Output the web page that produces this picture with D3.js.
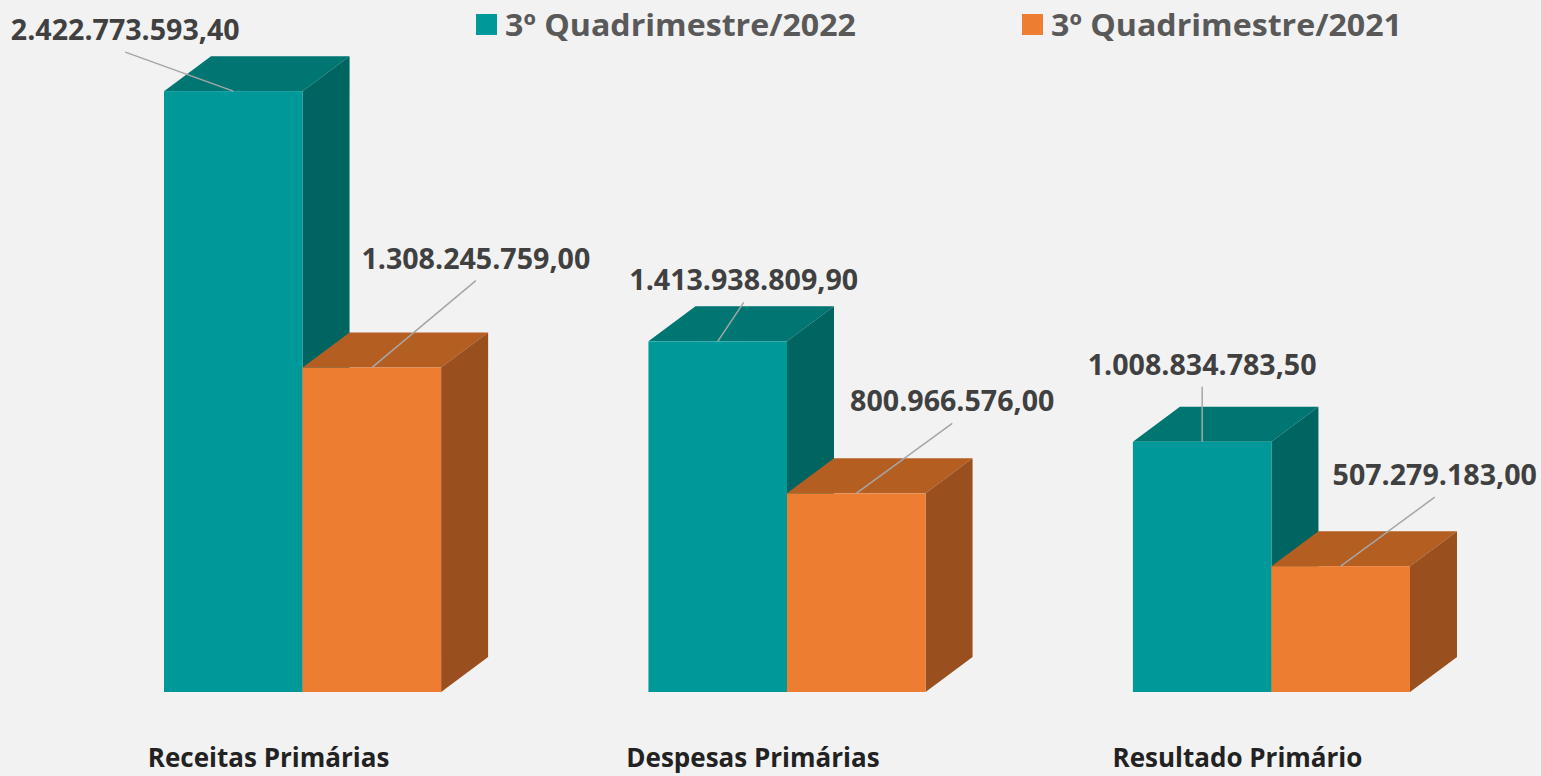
<!DOCTYPE html>
<html>
<head>
<meta charset="utf-8">
<script src="https://cdn.jsdelivr.net/npm/d3@7"></script>
<style>
  html, body { margin: 0; padding: 0; background: #f2f2f2; }
  svg { display: block; }
</style>
</head>
<body>
<svg id="chart"></svg>
<script>
// data
const categories = ["Receitas Primárias", "Despesas Primárias", "Resultado Primário"];
const series = ["3º Quadrimestre/2022", "3º Quadrimestre/2021"];
const values2022 = [2422773593.40, 1413938809.90, 1008834783.50];
const values2021 = [1308245759.00, 800966576.00, 507279183.00];

// where Excel's dragged labels sit, relative to bar top centre [series][category]
const labelOffset = [
  [[-108, -39], [26, -39], [0, -55]],
  [[104, -87], [96, -70], [94, -69]]
];

const width = 1541, height = 776;
const depthX = 47, depthY = 35;

const colors = {
  front: ["#009999", "#ED7D31"],
  top:   ["#007673", "#B55E22"],
  side:  ["#006461", "#994F1E"]
};

const locale = d3.formatLocale({decimal: ",", thousands: ".", grouping: [3], currency: ["R$", ""]});
const fmt = locale.format(",.2f");

const svg = d3.select("#chart")
    .attr("width", width)
    .attr("height", height)
    .attr("font-family", "'Open Sans', sans-serif")
    .attr("font-weight", "bold");

svg.append("rect").attr("width", width).attr("height", height).attr("fill", "#f2f2f2");

const x = d3.scaleBand()
    .domain(categories)
    .range([164, 1410])
    .paddingInner(0.428)
    .paddingOuter(0);

const xs = d3.scaleBand()
    .domain(d3.range(series.length))
    .range([0, x.bandwidth()]);

const y = d3.scaleLinear()
    .domain([0, 2500000000])
    .range([692, 72]);

const rows = categories.map((c, i) => ({
  cat: c,
  vals: [values2022[i], values2021[i]]
}));

const bars = [];
rows.forEach((r, ci) => r.vals.forEach((v, si) => {
  bars.push({ci, si, cat: r.cat, value: v,
    x0: x(r.cat) + xs(si), x1: x(r.cat) + xs(si) + xs.bandwidth(),
    y0: y(0), y1: y(v)});
}));

const g = svg.append("g");
const pts = a => a.map(p => p.join(",")).join(" ");

bars.forEach(b => {
  const bar = g.append("g");
  // top face
  bar.append("polygon")
      .attr("fill", colors.top[b.si])
      .attr("points", pts([[b.x0, b.y1], [b.x0 + depthX, b.y1 - depthY], [b.x1 + depthX, b.y1 - depthY], [b.x1, b.y1]]));
  // side face
  bar.append("polygon")
      .attr("fill", colors.side[b.si])
      .attr("points", pts([[b.x1, b.y1], [b.x1 + depthX, b.y1 - depthY], [b.x1 + depthX, b.y0 - depthY], [b.x1, b.y0]]));
  // front face
  bar.append("rect")
      .attr("fill", colors.front[b.si])
      .attr("x", b.x0)
      .attr("y", b.y1)
      .attr("width", b.x1 - b.x0)
      .attr("height", b.y0 - b.y1);
});

// data labels with leader lines
const labels = svg.append("g");
bars.forEach(b => {
  const cx = (b.x0 + b.x1) / 2;
  const [dx, dy] = labelOffset[b.si][b.ci];
  const sx = cx + dx, sy = b.y1 + dy;
  labels.append("line")
      .attr("x1", sx).attr("y1", sy)
      .attr("x2", cx).attr("y2", b.y1)
      .attr("stroke", "#a6a6a6")
      .attr("stroke-width", 1.5);
  labels.append("text")
      .attr("x", sx)
      .attr("y", sy - 12)
      .attr("text-anchor", "middle")
      .attr("font-size", 28.6)
      .attr("fill", "#404040")
      .text(fmt(b.value));
});

// category labels
svg.append("g")
  .selectAll("text")
  .data(categories)
  .join("text")
    .attr("x", d => x(d) + xs(1) - 34)
    .attr("y", 767)
    .attr("text-anchor", "middle")
    .attr("font-size", 26)
    .attr("fill", "#222222")
    .text(d => d);

// legend
const legendX = [476, 1022];
const legend = svg.append("g")
  .selectAll("g")
  .data(series)
  .join("g")
    .attr("transform", (d, i) => `translate(${legendX[i]},0)`);

legend.append("rect")
    .attr("x", 0).attr("y", 14)
    .attr("width", 21).attr("height", 21)
    .attr("fill", (d, i) => colors.front[i]);

legend.append("text")
    .attr("x", 29)
    .attr("y", 36)
    .attr("font-size", 31)
    .attr("fill", "#595959")
    .attr("textLength", 351)
    .attr("lengthAdjust", "spacingAndGlyphs")
    .text(d => d);
</script>
</body>
</html>
